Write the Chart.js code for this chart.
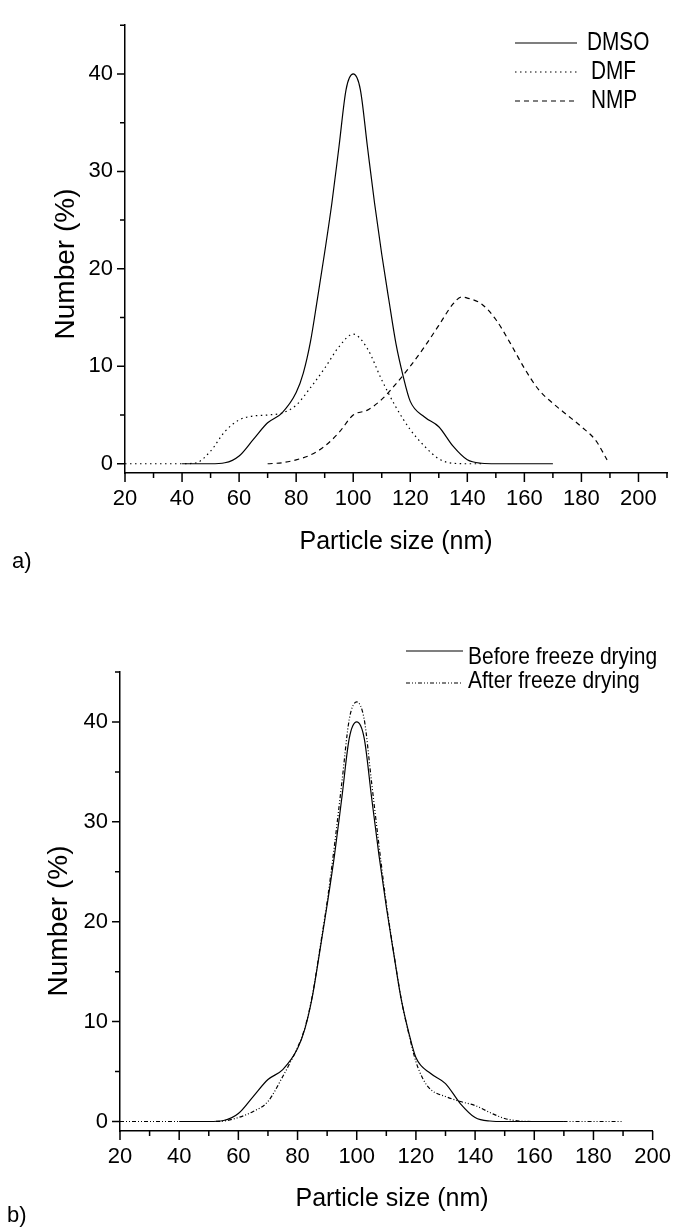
<!DOCTYPE html>
<html>
<head>
<meta charset="utf-8">
<script src="https://cdn.jsdelivr.net/npm/chart.js@4.4.1/dist/chart.umd.min.js"></script>
<style>
    html, body { margin: 0; padding: 0; background: #fff; }
    .panel { position: absolute; left: 0; width: 684px; }
</style>
</head>
<body>
<div class="panel" style="top:0;height:620px"><canvas id="chartA" width="684" height="620"></canvas></div>
<div class="panel" style="top:620px;height:610px"><canvas id="chartB" width="684" height="610"></canvas></div>
<script>
// panel a) solvents
const dmsoX = [40, 45, 50, 55, 60, 65, 70, 75, 80, 82.5, 85, 87.5, 90, 92.5, 95, 97.5, 100, 102.5, 105, 107.5, 110, 112.5, 115, 117.5, 120, 125, 130, 135, 140, 145, 150, 160, 170];
const dmsoY = [0, 0, 0, 0.1, 0.8, 2.5, 4.2, 5.2, 7.3, 9.3, 12.5, 17, 21.7, 26.7, 32.5, 38.4, 40, 38.4, 32.5, 26.7, 21.5, 16.8, 12.3, 9.0, 6.4, 4.8, 3.8, 1.8, 0.4, 0.05, 0, 0, 0];

const dmfX = [20, 25, 30, 35, 40, 45, 50, 55, 60, 65, 70, 75, 80, 85, 90, 95, 100, 105, 110, 115, 120, 125, 130, 135, 140, 145];
const dmfY = [0, 0, 0, 0, 0, 0.1, 1.3, 3.3, 4.5, 4.9, 5.0, 5.2, 6.0, 7.8, 9.8, 12.0, 13.3, 11.8, 8.6, 5.8, 3.5, 1.8, 0.5, 0.05, 0, 0];

const nmpX = [70, 75, 80, 85, 90, 95, 100, 105, 110, 115, 120, 125, 130, 135, 138, 140, 145, 150, 155, 160, 165, 170, 175, 180, 185, 189];
const nmpY = [0, 0.1, 0.4, 0.9, 1.8, 3.2, 5.0, 5.5, 6.6, 8.2, 10, 12, 14.2, 16.4, 17.1, 17.0, 16.4, 14.8, 12.4, 9.8, 7.6, 6.2, 5.0, 3.8, 2.4, 0.4];

// panel b) freeze drying
const beforeX = dmsoX;
const beforeY = dmsoY;

const afterX = [20, 30, 40, 50, 55, 60, 65, 70, 75, 77.5, 80, 82.5, 85, 87.5, 90, 92.5, 95, 97.5, 100, 102.5, 105, 107.5, 110, 112.5, 115, 117.5, 120, 122.5, 125, 130, 135, 140, 145, 150, 155, 160, 170, 180, 190];
const afterY = [0, 0, 0, 0, 0.05, 0.4, 1.0, 2.0, 4.5, 5.9, 7.4, 9.4, 12.6, 17.2, 22, 27.7, 34, 40.3, 42, 40.3, 34, 27.7, 21.8, 16.9, 12.3, 8.9, 6.0, 4.2, 3.2, 2.5, 2.0, 1.6, 0.9, 0.3, 0.05, 0, 0, 0, 0];

const yTickValues = [0, 5, 10, 15, 20, 25, 30, 35, 40, 45];
const yLabelValues = [0, 10, 20, 30, 40];

const FONT = "'Liberation Sans', Arial, Helvetica, sans-serif";

function toPoints(xs, ys) {
    return xs.map((x, i) => ({ x: x, y: ys[i] }));
}

function lineSet(label, xs, ys, dash) {
    return {
        label: label,
        data: toPoints(xs, ys),
        borderColor: "#000",
        borderWidth: 1.2,
        borderDash: dash,
        pointRadius: 0,
        fill: false,
        cubicInterpolationMode: "monotone",
    };
}

// condensed text, the figure's lettering is narrower than plain Arial
function squeezedText(ctx, text, x, y, size, sx) {
    ctx.save();
    ctx.translate(x, y);
    ctx.scale(sx, 1);
    ctx.font = size + "px " + FONT;
    ctx.fillText(text, 0, 0);
    ctx.restore();
}

// tick marks, axis titles, legend and panel letter
const axisMarks = {
    id: "axisMarks",
    afterDraw(chart, args, opts) {
        const ctx = chart.ctx;
        const xs = chart.scales.x;
        const ys = chart.scales.y;
        ctx.save();
        ctx.strokeStyle = "#000";
        ctx.lineWidth = 1.5;
        ctx.setLineDash([]);
        ctx.beginPath();
        xs.ticks.forEach((t) => {
            const px = xs.getPixelForValue(t.value);
            const len = t.value % 20 === 0 ? 9 : 5;
            ctx.moveTo(px, xs.top);
            ctx.lineTo(px, xs.top + len);
        });
        ys.ticks.forEach((t) => {
            const py = ys.getPixelForValue(t.value);
            const len = t.value % 10 === 0 ? 8 : 5;
            ctx.moveTo(ys.right, py);
            ctx.lineTo(ys.right - len, py);
        });
        ctx.stroke();

        ctx.fillStyle = "#000";
        ctx.textBaseline = "middle";

        ctx.font = "25px " + FONT;
        ctx.textAlign = "center";
        ctx.fillText("Particle size (nm)", opts.xTitle[0], opts.xTitle[1]);

        ctx.save();
        ctx.translate(opts.yTitle[0], opts.yTitle[1]);
        ctx.rotate(-Math.PI / 2);
        ctx.font = "28px " + FONT;
        ctx.fillText("Number (%)", 0, 0);
        ctx.restore();

        ctx.font = "22px " + FONT;
        ctx.textAlign = "left";
        ctx.fillText(opts.panel[0], opts.panel[1], opts.panel[2]);

        const lg = opts.legend;
        chart.data.datasets.forEach((ds, i) => {
            const y = lg.rows[i];
            ctx.beginPath();
            ctx.lineWidth = 1.2;
            ctx.setLineDash(ds.borderDash || []);
            ctx.moveTo(lg.x1, y);
            ctx.lineTo(lg.x2, y);
            ctx.stroke();
            ctx.setLineDash([]);
            squeezedText(ctx, ds.label, lg.textX[i], y + lg.textDy[i], lg.size, lg.sx);
        });
        ctx.restore();
    },
};

function makeChart(id, datasets, xMax, frame, marks) {
    const ctx = document.getElementById(id).getContext("2d");
    return new Chart(ctx, {
        type: "line",
        data: { datasets: datasets },
        plugins: [axisMarks],
        options: {
            responsive: false,
            animation: false,
            devicePixelRatio: 1,
            layout: {
                padding: { top: frame.top, right: frame.right, left: 0, bottom: 0 },
            },
            plugins: {
                legend: { display: false },
                tooltip: { enabled: false },
                axisMarks: marks,
            },
            scales: {
                x: {
                    type: "linear",
                    min: 20,
                    max: xMax,
                    grid: { display: false, drawTicks: false },
                    border: { display: true, color: "#000", width: 1.5 },
                    ticks: {
                        stepSize: 10,
                        autoSkip: false,
                        maxRotation: 0,
                        padding: 13,
                        color: "#000",
                        font: { family: FONT, size: 22 },
                        callback: (v) => (v % 20 === 0 ? v : ""),
                    },
                    afterFit: (scale) => { scale.height = frame.xHeight; },
                },
                y: {
                    min: -0.95,
                    max: 45,
                    grid: { display: false, drawTicks: false },
                    border: { display: true, color: "#000", width: 1.5 },
                    afterBuildTicks: (scale) => {
                        scale.ticks = yTickValues.map((v) => ({ value: v }));
                    },
                    ticks: {
                        padding: 12,
                        color: "#000",
                        font: { family: FONT, size: 22 },
                        callback: (v) => (yLabelValues.includes(v) ? v : ""),
                    },
                    afterFit: (scale) => { scale.width = frame.yWidth; },
                },
            },
        },
    });
}

makeChart(
    "chartA",
    [
        lineSet("DMSO", dmsoX, dmsoY, []),
        lineSet("DMF", dmfX, dmfY, [1.5, 3.5]),
        lineSet("NMP", nmpX, nmpY, [5, 4]),
    ],
    210,
    { top: 16, right: 17, xHeight: 147, yWidth: 125 },
    {
        xTitle: [396, 542],
        yTitle: [66, 264],
        panel: ["a)", 12, 562],
        legend: { x1: 515, x2: 577, textX: [587, 591, 591], rows: [43, 72, 101], textDy: [0, 0, 0], size: 26, sx: 0.8 },
    }
);

makeChart(
    "chartB",
    [
        lineSet("Before freeze drying", beforeX, beforeY, []),
        lineSet("After freeze drying", afterX, afterY, [4, 2, 1, 2, 1, 2]),
    ],
    200,
    { top: 52, right: 21, xHeight: 99, yWidth: 120 },
    {
        xTitle: [392, 579],
        yTitle: [59, 301],
        panel: ["b)", 7, 596],
        legend: { x1: 406, x2: 463, textX: [468, 468], rows: [31, 63], textDy: [6, -2], size: 24, sx: 0.875 },
    }
);
</script>
</body>
</html>
